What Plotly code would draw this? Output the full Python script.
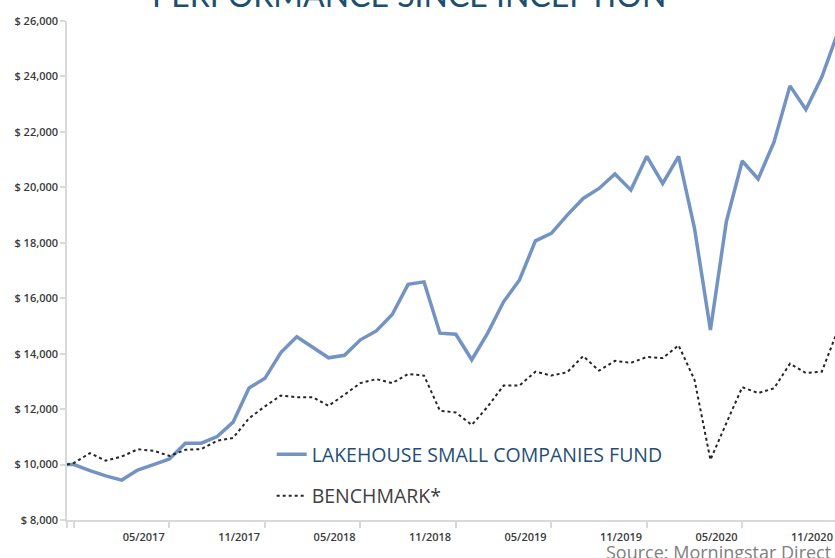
import plotly.graph_objects as go

# Month index: 0 = end of Nov 2016 ... 48 = end of Nov 2020; -0.44 = inception (mid Nov 2016)
months = [-0.44] + list(range(49))

fund = [10000,
        10000, 9780, 9590, 9440, 9800, 10000, 10200, 10770, 10770, 11010, 11530, 12760,
        13110, 14040, 14610, 14230, 13850, 13940, 14500, 14820, 15410, 16500, 16590, 14740,
        14700, 13780, 14740, 15870, 16660, 18070, 18340, 19000, 19600, 19960, 20480, 19900,
        21120, 20140, 21120, 18520, 14850, 18760, 20950, 20300, 21640, 23660, 22810, 23980,
        25570]

benchmark = [10000,
             10060, 10410, 10140, 10290, 10550, 10500, 10310, 10530, 10560, 10860, 10960, 11670,
             12100, 12490, 12430, 12430, 12120, 12520, 12940, 13080, 12940, 13270, 13210, 11940,
             11880, 11430, 12090, 12850, 12850, 13350, 13210, 13330, 13910, 13390, 13740, 13670,
             13880, 13840, 14300, 13060, 10170, 11490, 12790, 12580, 12750, 13640, 13300, 13350,
             14840]

tick_labels = ["05/2017", "11/2017", "05/2018", "11/2018",
               "05/2019", "11/2019", "05/2020", "11/2020"]
tick_months = [6, 12, 18, 24, 30, 36, 42, 48]

fund_name = "LAKEHOUSE SMALL COMPANIES FUND"
bench_name = "BENCHMARK*"

AXIS_GRAY = "#D9D9D9"
LABEL_FONT = dict(family="Open Sans", size=11, color="#3A3A3A", weight=600)

fig = go.Figure()
fig.add_trace(go.Scatter(
    x=months, y=fund, mode="lines",
    name='<span style="color:#1F4E79">' + fund_name + '</span>',
    line=dict(color="#7393C2", width=3.5),
    legendgroup="a",
))
fig.add_trace(go.Scatter(
    x=months, y=benchmark, mode="lines",
    name=bench_name,
    line=dict(color="#262626", width=2, dash="dot"),
    legendgroup="b",
))

# labels sit just left of their tick marks
label_pos = [m - 1.62 for m in tick_months]

fig.update_layout(
    width=835, height=558,
    margin=dict(l=67, r=0, t=21, b=38),
    paper_bgcolor="white", plot_bgcolor="white",
    showlegend=True,
    legend=dict(
        x=0.2665, y=0.170, xanchor="left", yanchor="top",
        bgcolor="rgba(0,0,0,0)",
        font=dict(family="Open Sans", size=19.5, color="#404040"),
        tracegroupgap=13,
        itemwidth=30,
    ),
    xaxis=dict(
        range=[-0.44, 47.83],
        showline=True, linecolor=AXIS_GRAY, linewidth=1.5,
        showgrid=False, zeroline=False,
        tickmode="array", tickvals=label_pos, ticktext=tick_labels,
        ticks="outside", ticklen=6, tickcolor="rgba(0,0,0,0)",
        tickfont=LABEL_FONT,
        minor=dict(tickmode="array", tickvals=[-0.44, 0] + tick_months[:-1],
                   ticks="outside", ticklen=6, tickcolor=AXIS_GRAY, tickwidth=1.5,
                   showgrid=False),
    ),
    yaxis=dict(
        range=[8000, 26000], dtick=2000, tick0=8000,
        showline=True, linecolor=AXIS_GRAY, linewidth=1.5,
        showgrid=False, zeroline=False,
        tickprefix="$ ", tickformat=",d",
        ticks="outside", ticklen=5, tickcolor=AXIS_GRAY, tickwidth=1.5,
        tickfont=LABEL_FONT,
    ),
    annotations=[
        dict(text="PERFORMANCE SINCE INCEPTION", xref="paper", yref="paper",
             x=0.445, y=1.011, xanchor="center", yanchor="bottom",
             showarrow=False,
             font=dict(family="Lato", size=32, color="#1D4F6E")),
        dict(text="Source: Morningstar Direct", xref="paper", yref="paper",
             x=0.997, y=-0.036, xanchor="right", yanchor="top",
             showarrow=False,
             font=dict(family="Open Sans", size=18, color="#808080")),
    ],
)

fig.write_html("out.html", config={"displayModeBar": False},
               post_script="document.body.style.margin='0';")
